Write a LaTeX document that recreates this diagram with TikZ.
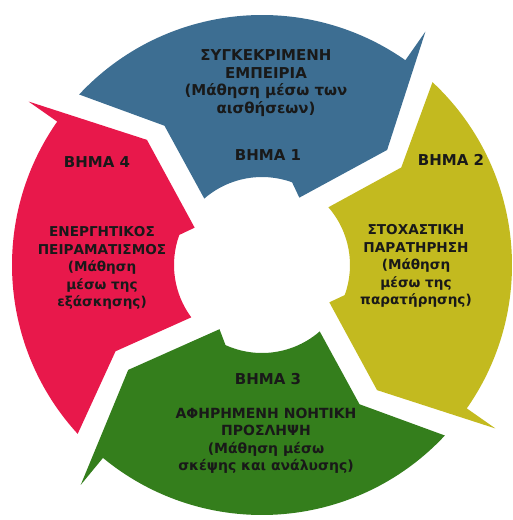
\documentclass[tikz,border=0pt]{standalone}
\usepackage{fontspec}
\setmainfont{DejaVu Sans}
\definecolor{stepblue}{RGB}{61,110,146}
\definecolor{stepyellow}{RGB}{195,186,31}
\definecolor{stepgreen}{RGB}{52,126,28}
\definecolor{stepred}{RGB}{232,24,75}
\definecolor{steptext}{RGB}{25,25,25}
\newcommand{\cycleseg}[2]{({137+#1}:250pt) arc[start angle={137+#1}, end angle={55+#2}, radius=250pt]
  -- ({55+#2}:285pt) -- ({42.6+#2}:170pt) -- ({61+#2}:77pt) -- ({70+#2}:88pt)
  arc[start angle={70+#2}, end angle={131+#1}, radius=88pt] -- ({125+#1}:170pt) -- cycle}
\begin{document}
\begin{tikzpicture}[txt/.style={align=center, text=steptext, inner sep=0pt, font=\bfseries\fontsize{#1}{17.5}\selectfont},
    txt/.default=15]
    \useasboundingbox (-262pt,-255pt) rectangle (251pt,265pt);
    \fill[stepblue] \cycleseg{0}{0};
    \fill[stepyellow, rotate=-90] \cycleseg{0}{0};
    \fill[stepgreen, rotate=-180] \cycleseg{0}{-4.5};
    \fill[stepred, rotate=-270] \cycleseg{-4.5}{0};
    \node[txt] (exp) at (4pt,182pt) {ΣΥΓΚΕΚΡΙΜΕΝΗ\\ΕΜΠΕΙΡΙΑ\\(Μάθηση μέσω των\\αισθήσεων)};
    \node[txt] (step1) at (6pt,110pt) {ΒΗΜΑ 1};
    \node[txt] (step2) at (189pt,105pt) {ΒΗΜΑ 2};
    \node[txt=13.6] (obs) at (154pt,-1pt) {ΣΤΟΧΑΣΤΙΚΗ\\ΠΑΡΑΤΗΡΗΣΗ\\(Μάθηση\\μέσω της\\παρατήρησης)};
    \node[txt] (step3) at (6pt,-114pt) {ΒΗΜΑ 3};
    \node[txt=14] (abs) at (4pt,-176pt) {ΑΦΗΡΗΜΕΝΗ ΝΟΗΤΙΚΗ\\ΠΡΟΣΛΗΨΗ\\(Μάθηση μέσω\\σκέψης και ανάλυσης)};
    \node[txt] (step4) at (-165pt,103pt) {ΒΗΜΑ 4};
    \node[txt=13.6] (act) at (-160pt,-3pt) {ΕΝΕΡΓΗΤΙΚΟΣ\\ΠΕΙΡΑΜΑΤΙΣΜΟΣ\\(Μάθηση\\μέσω της\\εξάσκησης)};
  \end{tikzpicture}
\end{document}
